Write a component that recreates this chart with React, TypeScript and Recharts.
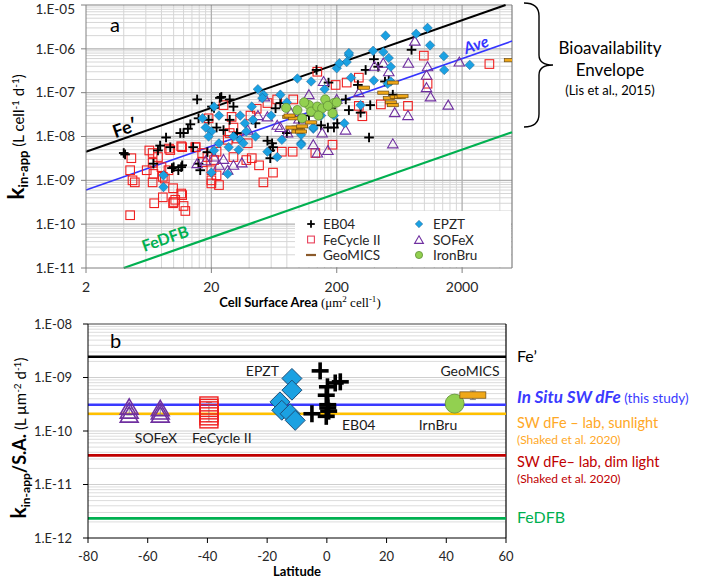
import React from 'react';
import { ScatterChart, Scatter, XAxis, YAxis, ReferenceLine, ErrorBar } from 'recharts';

const FONT = 'Lato, "Open Sans", sans-serif';

// ---------- Panel a : axes ----------
const saTicks = [2, 20, 200, 2000];
const kTicks = [1e-11, 1e-10, 1e-9, 1e-8, 1e-7, 1e-6, 1e-5];
const saMajorGrid = [20, 200, 2000];
const saMinorGrid = [4, 6, 8, 10, 12, 14, 16, 18, 40, 60, 80, 100, 120, 140, 160, 180, 400, 600, 800, 1000, 1200, 1400, 1600, 1800, 4000];
const kDecades = [1e-11, 1e-10, 1e-9, 1e-8, 1e-7, 1e-6];
const minorMult = [2, 3, 4, 5, 6, 7, 8, 9];

// ---------- Panel a : data (SA um2/cell, k L/cell/d) ----------
const eb04A: [number, number][] = [
  [4.1, 3.9e-9], [8.7, 9.5e-9], [7.8, 6.2e-9], [7.5, 4.8e-9], [9.4, 5.7e-9], [11.3, 1.2e-8], [13, 1.5e-8], [13.6, 1.9e-8],
  [15.4, 7e-8], [15.8, 2.6e-8], [20.2, 4.8e-8], [23.4, 7.6e-8], [28, 7e-8], [30, 4.8e-8], [15.8, 2.4e-9], [11.7, 2.2e-9],
  [10.9, 1.7e-9], [6.9, 2.4e-9], [9.7, 1.9e-9], [16.3, 1.7e-9], [18.6, 4.4e-9], [14.3, 5.7e-9], [22, 1.6e-8], [28, 2.4e-8],
  [32, 1.2e-8], [56, 8e-9], [61, 7e-9], [59, 4.8e-9], [59, 3.2e-9], [62, 5.7e-9], [362, 9.5e-9], [138, 3.3e-7], [172, 1.7e-7],
  [396, 5.8e-7], [428, 3.9e-7], [340, 3.3e-7], [485, 1.8e-7], [295, 1.5e-7], [236, 7e-8], [370, 5.2e-8], [180, 4.4e-8],
  [202, 2e-8], [170, 1.6e-8], [65, 4.4e-8], [71, 5.8e-8], [790, 9.5e-7], [520, 1.9e-7], [560, 9e-8], [310, 3.5e-8],
  [190, 1.6e-8], [150, 1.8e-8], [100, 2.5e-8], [120, 3e-8], [45, 2e-8], [80, 1.2e-8], [250, 4e-8], [25, 1.4e-8],
  [24, 8e-8], [21, 4.5e-8], [19, 2.4e-8], [12, 1.2e-8], [11.5, 2e-9], [10, 2e-9], [4, 4.2e-9],
];
const fecycleA: [number, number][] = [
  [4.6, 3.2e-9], [4.5, 1.7e-9], [4.7, 1e-9], [4.9, 9e-10], [4.5, 1.6e-10], [6.8, 4.2e-9], [6.8, 2.5e-9], [6.9, 1.4e-9],
  [6.8, 9e-10], [7.0, 3e-10], [8.2, 4.1e-10], [7.5, 3.4e-9], [8.2, 1.2e-9], [9.1, 1.7e-9], [9.9, 6.6e-10], [10.3, 3.6e-10],
  [9.9, 3e-10], [11.7, 4.6e-10], [12.4, 2e-10], [9.4, 4.9e-9], [11.7, 5.7e-9], [14.9, 5.7e-9], [16.9, 4.2e-9], [18.6, 3.4e-9],
  [17, 2.6e-9], [20, 1.7e-9], [20, 8.5e-10], [23, 7.8e-10], [22, 1.3e-9], [19, 2.6e-8], [25, 5.2e-8], [29, 2.8e-8],
  [30, 1.6e-8], [28, 1.2e-8], [27, 8.4e-9], [32, 9e-9], [39, 7e-9], [42, 3.2e-9], [48, 2.2e-9], [52, 9e-10], [62, 1.5e-9],
  [41, 3e-8], [56, 5.8e-8], [67, 7e-8], [73, 4.5e-9], [89, 4.5e-9], [140, 3e-7], [185, 6.5e-9], [990, 7e-7], [1060, 1.6e-7],
  [3300, 4.5e-7], [740, 5e-8], [450, 5.4e-8], [320, 2.9e-8], [300, 2.2e-7], [135, 4.2e-9], [240, 1.7e-7], [196, 1.5e-7],
  [300, 5e-8], [90, 7e-8], [46, 4.3e-8], [11.5, 6e-9], [9.2, 5.3e-9], [6.4, 4.8e-9], [6.1, 1.7e-9], [8, 2e-9], [8.5, 1.1e-9],
  [11.5, 5e-10], [10, 3.2e-10], [12, 2.6e-10], [15, 5.7e-9], [22, 4.5e-9], [30, 3.4e-9], [38, 2.9e-9], [21, 2.9e-9], [20, 1e-9],
];
const epztA: [number, number][] = [
  [250, 7.2e-7], [200, 3.6e-7], [97, 2.1e-7], [125, 1.8e-7], [47, 1.2e-7], [52, 9e-8], [71, 9e-8], [42, 4.8e-8], [34, 3e-8],
  [23, 3e-8], [21, 4.8e-8], [17, 2.6e-8], [18, 1.6e-8], [20, 1.3e-8], [19, 1e-8], [23, 7e-9], [27.5, 5.7e-9], [34, 8.4e-9],
  [38, 1.3e-8], [43, 2.4e-8], [56, 4.5e-9], [67, 3.4e-9], [73, 8.4e-9], [104, 7e-9], [104, 1.1e-8], [130, 1.5e-8], [190, 3e-8],
  [230, 2e-8], [20, 1.5e-9], [27, 1.4e-9], [8.3, 7e-10], [8.3, 1.3e-9], [260, 2.2e-7], [21, 4.8e-9], [490, 2e-6], [860, 2.2e-6],
  [1060, 3e-6], [1110, 1.2e-6], [1430, 6.8e-7], [1440, 3.3e-7], [2300, 4.3e-7], [250, 8e-7], [390, 9e-7], [470, 8.5e-7],
  [240, 5e-7], [520, 6.2e-7], [540, 3.9e-7], [540, 1.8e-7], [310, 5.2e-8], [130, 1.6e-8], [210, 4.7e-7], [51, 7.5e-8],
  [37, 2e-8], [510, 1.6e-7], [395, 1.9e-7], [104, 6.5e-9], [160, 1.2e-7], [80, 6e-8], [60, 3e-8], [30, 1e-8], [150, 3e-8],
  [33, 5e-9], [36, 7e-9], [45, 1e-8],
];
const sofexA: [number, number][] = [
  [47, 3e-8], [15.4, 2.4e-9], [21, 3.4e-9], [23, 2.2e-9], [27, 1.7e-9], [30, 2.2e-9], [56, 2.8e-8], [67, 1.8e-8], [81, 1.2e-8],
  [130, 6.5e-9], [140, 4.2e-9], [153, 1.2e-8], [157, 1.8e-7], [53, 8e-8], [840, 1.5e-6], [745, 4.7e-7], [1060, 3.9e-7],
  [1900, 5e-7], [1040, 2.5e-7], [1040, 1.3e-7], [1120, 8e-8], [1550, 5.2e-8], [580, 3.5e-8], [740, 3e-8], [560, 6.8e-9],
  [235, 1.4e-8], [170, 4.8e-9], [520, 3e-7], [470, 4.7e-7], [86, 3.5e-8], [71, 1.6e-8], [39, 1.4e-8], [25, 3e-9], [18, 2.8e-9],
  [35, 2.5e-9], [100, 2.5e-8], [120, 9e-8], [200, 7e-8], [300, 1e-7], [400, 4e-7],
];
const geomicsA: [number, number][] = [
  [82, 2.8e-8], [97, 1.6e-8], [100, 1.4e-8], [125, 2.1e-8], [470, 1e-7], [520, 7.5e-8], [540, 6e-8], [560, 5.2e-8], [590, 8e-8],
  [640, 8e-8], [560, 1.7e-7], [91, 2.6e-8], [87, 1.6e-8], [97, 1.3e-8], [4800, 5.5e-7], [670, 8.3e-8], [330, 1.3e-7],
  [104, 1.3e-8], [106, 1.7e-8], [84, 3e-8],
];
const ironbruA: [number, number][] = [
  [79, 4.5e-8], [97, 4e-8], [106, 2.6e-8], [120, 5.2e-8], [125, 3.7e-8], [140, 4.8e-8], [153, 4.4e-8], [162, 7e-8],
  [190, 5.8e-8], [200, 6e-8], [185, 3.4e-8], [143, 3e-8], [110, 6e-8], [170, 5e-8],
];

// model lines (k = coef * SA)
const feLineA = [{ x: 2, y: 4.5e-9 }, { x: 4444, y: 1e-5 }];
const aveLineA = [{ x: 2, y: 6e-10 }, { x: 5000, y: 1.5e-6 }];
const dfbLineA = [{ x: 4, y: 1e-11 }, { x: 5000, y: 1.25e-8 }];

// ---------- Panel b ----------
const latTicks = [-80, -60, -40, -20, 0, 20, 40, 60];
const kSaTicks = [1e-12, 1e-11, 1e-10, 1e-9, 1e-8];
const kSaDecades = [1e-12, 1e-11, 1e-10, 1e-9];

const feB = 2.44e-9;
const inSituB = 3.1e-10;
const sunB = 2.1e-10;
const dimB = 3.5e-11;
const dfbB = 2.33e-12;

const sofexB: [number, number][] = [
  [-66.2, 2.77e-10], [-66.2, 2.33e-10], [-66.2, 1.96e-10], [-55.8, 2.6e-10], [-55.8, 2.25e-10], [-55.8, 1.96e-10],
];
const fecycleB: [number, number][] = [
  [-39.5, 3.0e-10], [-39.5, 2.7e-10], [-39.5, 2.43e-10], [-39.5, 2.14e-10], [-39.5, 1.88e-10], [-39.5, 1.65e-10],
];
const epztB: [number, number][] = [
  [-11.7, 9.6e-10], [-11.7, 5.8e-10], [-15.7, 3.5e-10], [-15.1, 2.44e-10], [-12.3, 2.1e-10], [-10.6, 1.58e-10],
];
const eb04B: [number, number][] = [
  [-2.25, 1.33e-9], [0.2, 6.7e-10], [2.8, 7.9e-10], [4.5, 8.3e-10], [-0.2, 4.66e-10], [0.3, 3.1e-10], [0.3, 2.7e-10],
  [0.6, 2.35e-10], [-5, 2.1e-10], [-0.2, 1.88e-10],
];
const ironbruB: [number, number][] = [[42.8, 3.25e-10]];
const geomicsB: [number, number][] = [[48.9, 4.7e-10]];

const errB = [
  { x: -66.2, y: 2.3e-10, err: [0.3e-10, 0.35e-10] },
  { x: -55.8, y: 2.25e-10, err: [0.25e-10, 0.35e-10] },
  { x: -39.5, y: 2.1e-10, err: [0.6e-10, 1.3e-10] },
  { x: 48.9, y: 4.7e-10, err: [0.83e-10, 0.9e-10] },
];

const toPts = (a: [number, number][]) => a.map(([x, y]) => ({ x, y }));

const fmtExp = (v: number) => {
  const e = Math.round(Math.log10(v));
  return `1.E${e < 0 ? '-' : '+'}${String(Math.abs(e)).padStart(2, '0')}`;
};

// ---------- marker shapes ----------
const Plus = ({ cx, cy, s, w }: any) => (
  <g>
    <line x1={cx - s} y1={cy} x2={cx + s} y2={cy} stroke="#000" strokeWidth={w} />
    <line x1={cx} y1={cy - s} x2={cx} y2={cy + s} stroke="#000" strokeWidth={w} />
  </g>
);
const Square = ({ cx, cy, s, w, h, color }: any) => (
  <rect x={cx - s} y={cy - (h ?? s)} width={2 * s} height={2 * (h ?? s)} fill="none" stroke={color ?? '#f02020'} strokeWidth={w} />
);
const Diamond = ({ cx, cy, s, sw }: any) => (
  <path d={`M${cx},${cy - s}L${cx + s},${cy}L${cx},${cy + s}L${cx - s},${cy}Z`} fill="#1ba1e2" stroke="#1f4e79" strokeWidth={sw} />
);
const Tri = ({ cx, cy, s, w }: any) => (
  <path d={`M${cx},${cy - s}L${cx + s * 1.05},${cy + s * 0.8}L${cx - s * 1.05},${cy + s * 0.8}Z`} fill="none" stroke="#7030a0" strokeWidth={w} />
);
const Dash = ({ cx, cy, hw, hh }: any) => (
  <rect x={cx - hw} y={cy - hh} width={2 * hw} height={2 * hh} fill="#f0a818" stroke="#6b4a10" strokeWidth={0.7} />
);
const Dot = ({ cx, cy, r }: any) => (
  <ellipse cx={cx} cy={cy} rx={r} ry={r} fill="#92d050" stroke="#5f8f35" strokeWidth={0.8} />
);

const tickStyleAx = { fontFamily: FONT, fontSize: 14, fill: '#262626' };
const tickStyleB = { fontFamily: FONT, fontSize: 13, fill: '#262626' };

// y tick of panel a; the top label is nudged down so it stays inside the page
const YTickA = (props: any) => {
  const { x, y, payload } = props;
  const yy = Math.max(y, 9);
  return (
    <text x={x} y={yy} dy="0.35em" textAnchor="end" style={{ fontFamily: FONT, fontSize: 13.5, fill: '#262626' }}>
      {fmtExp(payload.value)}
    </text>
  );
};

function PanelA() {
  const kMinor = kDecades.flatMap((d) => minorMult.map((m) => m * d));
  return (
    <ScatterChart width={516} height={308} margin={{ top: 5, right: 4, bottom: 10, left: 16 }}>
      <XAxis dataKey="x" type="number" scale="log" domain={[2, 5000]} ticks={saTicks} allowDataOverflow
        tick={tickStyleAx} tickSize={5} tickMargin={9} height={30} stroke="#808080" interval={0} />
      <YAxis dataKey="y" type="number" scale="log" domain={[1e-11, 1e-5]} ticks={kTicks} allowDataOverflow
        tick={<YTickA />} tickSize={5} tickMargin={6} width={70} stroke="#808080" interval={0} />
      {kMinor.map((v) => <ReferenceLine key={'hm' + v} y={v} stroke="#d6d6d6" strokeWidth={1} />)}
      {saMinorGrid.map((v) => <ReferenceLine key={'vm' + v} x={v} stroke="#d6d6d6" strokeWidth={1} />)}
      {kTicks.slice(1, 6).map((v) => <ReferenceLine key={'hM' + v} y={v} stroke="#b0b0b0" strokeWidth={1.3} />)}
      {saMajorGrid.map((v) => <ReferenceLine key={'vM' + v} x={v} stroke="#b0b0b0" strokeWidth={1.3} />)}
      <ReferenceLine y={1e-5} stroke="#808080" strokeWidth={1.2} />
      <ReferenceLine x={5000} stroke="#808080" strokeWidth={1.2} />
      <ReferenceLine segment={dfbLineA} stroke="#00b050" strokeWidth={2.2} />
      <ReferenceLine segment={aveLineA} stroke="#3535ff" strokeWidth={1.6} />
      <ReferenceLine segment={feLineA} stroke="#000" strokeWidth={2} />
      <Scatter data={toPts(fecycleA)} isAnimationActive={false} shape={(p: any) => <Square cx={p.cx} cy={p.cy} s={4.3} w={1.1} />} />
      <Scatter data={toPts(eb04A)} isAnimationActive={false} shape={(p: any) => <Plus cx={p.cx} cy={p.cy} s={4.8} w={1.9} />} />
      <Scatter data={toPts(sofexA)} isAnimationActive={false} shape={(p: any) => <Tri cx={p.cx} cy={p.cy} s={5} w={1.1} />} />
      <Scatter data={toPts(epztA)} isAnimationActive={false} shape={(p: any) => <Diamond cx={p.cx} cy={p.cy} s={4.8} sw={0.4} />} />
      <Scatter data={toPts(geomicsA)} isAnimationActive={false} shape={(p: any) => <Dash cx={p.cx} cy={p.cy} hw={5.5} hh={1.6} />} />
      <Scatter data={toPts(ironbruA)} isAnimationActive={false} shape={(p: any) => <Dot cx={p.cx} cy={p.cy} r={4.6} />} />
    </ScatterChart>
  );
}

function PanelB() {
  const kMinor = kSaDecades.flatMap((d) => minorMult.map((m) => m * d));
  return (
    <ScatterChart width={524} height={279} margin={{ top: 24, right: 18, bottom: 11, left: 18 }}>
      <XAxis dataKey="x" type="number" domain={[-80, 60]} ticks={latTicks} allowDataOverflow
        tick={tickStyleB} tickSize={5} tickMargin={9} height={30} stroke="#000" interval={0} />
      <YAxis dataKey="y" type="number" scale="log" domain={[1e-12, 1e-8]} ticks={kSaTicks} allowDataOverflow
        tick={tickStyleB} tickSize={5} tickMargin={11} width={70} stroke="#000" tickFormatter={fmtExp} interval={0} />
      {kMinor.map((v) => <ReferenceLine key={'bm' + v} y={v} stroke="#dcdcdc" strokeWidth={1} />)}
      {kSaDecades.slice(1).map((v) => <ReferenceLine key={'bM' + v} y={v} stroke="#cfcfcf" strokeWidth={1} />)}
      <ReferenceLine y={1e-8} stroke="#404040" strokeWidth={1.2} />
      <ReferenceLine x={60} stroke="#000" strokeWidth={1.2} />
      <ReferenceLine y={feB} stroke="#000" strokeWidth={2.6} />
      <ReferenceLine y={dfbB} stroke="#00b050" strokeWidth={2.6} />
      <ReferenceLine y={dimB} stroke="#c00000" strokeWidth={2.6} />
      <ReferenceLine y={sunB} stroke="#ffc000" strokeWidth={2.6} />
      <ReferenceLine y={inSituB} stroke="#3a3aff" strokeWidth={2.6} />
      <Scatter data={errB} isAnimationActive={false} shape={() => <g />}>
        <ErrorBar dataKey="err" direction="y" width={3} stroke="#8a8a8a" strokeWidth={1} />
      </Scatter>
      <Scatter data={toPts(sofexB)} isAnimationActive={false} shape={(p: any) => <Tri cx={p.cx} cy={p.cy} s={8.5} w={1.6} />} />
      <Scatter data={toPts(fecycleB)} isAnimationActive={false} shape={(p: any) => <Square cx={p.cx} cy={p.cy} s={9} h={8.5} w={1.4} />} />
      <Scatter data={toPts(epztB)} isAnimationActive={false} shape={(p: any) => <Diamond cx={p.cx} cy={p.cy} s={10} sw={1} />} />
      <Scatter data={toPts(eb04B)} isAnimationActive={false} shape={(p: any) => <Plus cx={p.cx} cy={p.cy} s={8.5} w={3.6} />} />
      <Scatter data={toPts(ironbruB)} isAnimationActive={false} shape={(p: any) => <Dot cx={p.cx} cy={p.cy} r={9.5} />} />
      <Scatter data={toPts(geomicsB)} isAnimationActive={false} shape={(p: any) => <Dash cx={p.cx} cy={p.cy} hw={13} hh={3.2} />} />
    </ScatterChart>
  );
}

function Overlay() {
  const t = { fontFamily: FONT };
  return (
    <svg width={709} height={579} style={{ position: 'absolute', left: 0, top: 0, pointerEvents: 'none' }}>
      {/* legend a */}
      <rect x={295} y={211} width={216} height={56} fill="#fff" />
      <g style={{ ...t, fontSize: 13.5, fill: '#262626' }}>
        <Plus cx={311} cy={224} s={3.8} w={1.8} />
        <text x={323} y={229}>EB04</text>
        <Square cx={311} cy={239.5} s={3.4} w={1.1} color="#e8405a" />
        <text x={323} y={244.5}>FeCycle II</text>
        <line x1={306} y1={255} x2={316} y2={255} stroke="#8b5a2b" strokeWidth={2.2} />
        <text x={323} y={260}>GeoMICS</text>
        <Diamond cx={419} cy={224} s={3.8} sw={0.4} />
        <text x={433} y={229}>EPZT</text>
        <Tri cx={419} cy={240} s={4.2} w={1.1} />
        <text x={433} y={244.5}>SOFeX</text>
        <Dot cx={419} cy={255} r={3.6} />
        <text x={433} y={260}>IronBru</text>
      </g>
      {/* panel a labels */}
      <text x={110} y={32} style={{ ...t, fontSize: 20, fill: '#000' }}>a</text>
      <text x={127} y={134} transform="rotate(-19.3 127 134)" textAnchor="middle" style={{ ...t, fontSize: 18, fontWeight: 700, fill: '#000' }}>Fe&#x2032;</text>
      <text x={478} y={50} transform="rotate(-19.3 478 50)" textAnchor="middle" style={{ ...t, fontSize: 16, fontWeight: 700, fontStyle: 'italic', fill: '#3535ff' }}>Ave</text>
      <text x={167} y={244} transform="rotate(-19.3 167 244)" textAnchor="middle" style={{ ...t, fontSize: 16, fontWeight: 700, fill: '#00b050' }}>FeDFB</text>
      {/* bracket */}
      <path d="M524,3 Q539,3 539,16 L539,55 Q539,65 553,65 Q539,65 539,75 L539,114 Q539,127 524,127" fill="none" stroke="#000" strokeWidth={1.4} />
      <g style={{ ...t, fill: '#000' }} textAnchor="middle">
        <text x={610} y={54} style={{ fontSize: 17 }}>Bioavailability</text>
        <text x={610} y={76} style={{ fontSize: 17 }}>Envelope</text>
        <text x={610} y={95} style={{ fontSize: 13 }}>(Lis et al., 2015)</text>
      </g>
      {/* y label a */}
      <text transform="translate(24 137) rotate(-90)" textAnchor="middle" style={{ ...t, fill: '#000' }}>
        <tspan style={{ fontSize: 23, fontWeight: 700 }}>k</tspan>
        <tspan dy={4} style={{ fontSize: 13, fontWeight: 700 }}>in-app</tspan>
        <tspan dy={-4} style={{ fontSize: 15 }}>{'  (L cell'}</tspan>
        <tspan dy={-5} style={{ fontSize: 10 }}>-1</tspan>
        <tspan dy={5} style={{ fontSize: 15 }}>{' d'}</tspan>
        <tspan dy={-5} style={{ fontSize: 10 }}>-1</tspan>
        <tspan dy={5} style={{ fontSize: 15 }}>)</tspan>
      </text>
      {/* x label a */}
      <text x={300} y={307} textAnchor="middle" style={{ fill: '#000' }}>
        <tspan style={{ ...t, fontSize: 13, fontWeight: 700 }}>Cell Surface Area </tspan>
        <tspan style={{ fontFamily: '"Liberation Serif", serif', fontSize: 13 }}>(μm</tspan>
        <tspan dy={-5} style={{ fontFamily: '"Liberation Serif", serif', fontSize: 9 }}>2</tspan>
        <tspan dy={5} style={{ fontFamily: '"Liberation Serif", serif', fontSize: 13 }}> cell</tspan>
        <tspan dy={-5} style={{ fontFamily: '"Liberation Serif", serif', fontSize: 9 }}>-1</tspan>
        <tspan dy={5} style={{ fontFamily: '"Liberation Serif", serif', fontSize: 13 }}>)</tspan>
      </text>
      {/* panel b labels */}
      <text x={110} y={348} style={{ ...t, fontSize: 20, fill: '#000' }}>b</text>
      <g style={{ ...t, fontSize: 14, fill: '#1a1a1a' }}>
        <text x={279} y={376} textAnchor="end">EPZT</text>
        <text x={470} y={376} textAnchor="middle">GeoMICS</text>
        <text x={156} y={443} textAnchor="middle">SOFeX</text>
        <text x={192} y={443}>FeCycle II</text>
        <text x={342} y={430}>EB04</text>
        <text x={438} y={430} textAnchor="middle">IrnBru</text>
      </g>
      <g style={{ ...t }}>
        <text x={517} y={362} style={{ fontSize: 16, fill: '#000' }}>Fe&#x2019;</text>
        <text x={517} y={403} style={{ fill: '#3a3aff' }}>
          <tspan style={{ fontSize: 17, fontWeight: 700, fontStyle: 'italic' }}>In Situ SW dFe</tspan>
          <tspan style={{ fontSize: 13.5 }}>{' (this study)'}</tspan>
        </text>
        <text x={517} y={428} style={{ fontSize: 14.5, fill: '#ffa826' }}>SW dFe – lab, sunlight</text>
        <text x={517} y={444} style={{ fontSize: 12, fill: '#ffa826' }}>(Shaked et al. 2020)</text>
        <text x={517} y={467} style={{ fontSize: 14.5, fill: '#c00000' }}>SW dFe– lab, dim light</text>
        <text x={517} y={483} style={{ fontSize: 12, fill: '#c00000' }}>(Shaked et al. 2020)</text>
        <text x={517} y={523} style={{ fontSize: 16, fill: '#00b050' }}>FeDFB</text>
      </g>
      {/* y label b */}
      <text transform="translate(26 438) rotate(-90)" textAnchor="middle" style={{ ...t, fill: '#000' }}>
        <tspan style={{ fontSize: 21, fontWeight: 700 }}>k</tspan>
        <tspan dy={4} style={{ fontSize: 12, fontWeight: 700 }}>in-app</tspan>
        <tspan dy={-4} style={{ fontSize: 18, fontWeight: 700 }}>/S.A.</tspan>
        <tspan style={{ fontSize: 15 }}>{' (L µm'}</tspan>
        <tspan dy={-5} style={{ fontSize: 10 }}>-2</tspan>
        <tspan dy={5} style={{ fontSize: 15 }}>{' d'}</tspan>
        <tspan dy={-5} style={{ fontSize: 10 }}>-1</tspan>
        <tspan dy={5} style={{ fontSize: 15 }}>)</tspan>
      </text>
      <text x={297} y={576} textAnchor="middle" style={{ ...t, fontSize: 13, fontWeight: 700, fill: '#000' }}>Latitude</text>
    </svg>
  );
}

export default function App() {
  return (
    <div style={{ position: 'absolute', left: 0, top: 0, width: 709, height: 579, background: '#fff', overflow: 'hidden' }}>
      <div style={{ position: 'absolute', left: 0, top: 0 }}>
        <PanelA />
      </div>
      <div style={{ position: 'absolute', left: 0, top: 300 }}>
        <PanelB />
      </div>
      <Overlay />
    </div>
  );
}
